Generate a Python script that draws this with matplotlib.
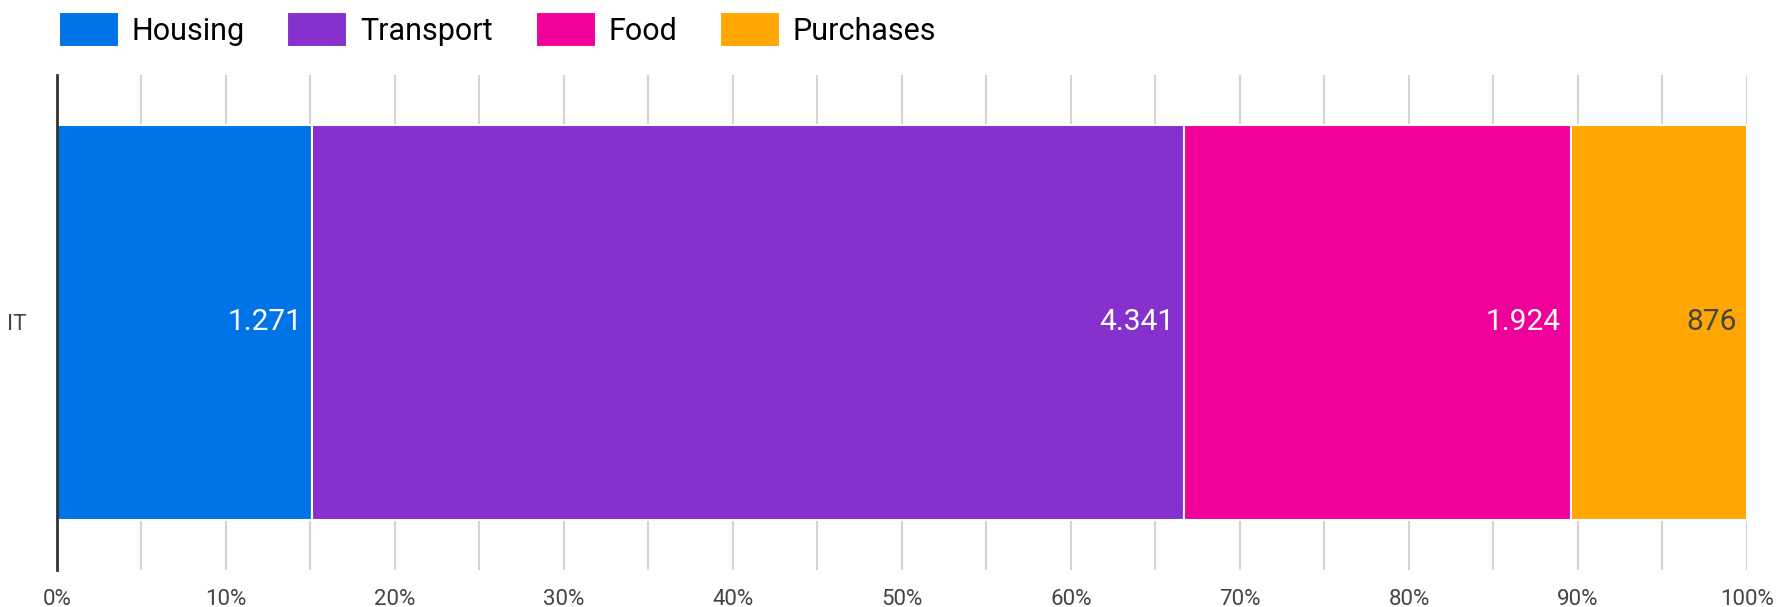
import matplotlib.pyplot as plt
from matplotlib.ticker import MultipleLocator, FuncFormatter

plt.rcParams['font.family'] = ['Roboto', 'DejaVu Sans']

category = "IT"
series = ["Housing", "Transport", "Food", "Purchases"]
values = [1271, 4341, 1924, 876]
labels = ["1.271", "4.341", "1.924", "876"]
colors = ["#0073E6", "#8630CD", "#F0009A", "#FFA600"]
label_colors = ["white", "white", "white", "#444444"]

total = sum(values)
shares = [v / total * 100 for v in values]

fig = plt.figure(figsize=(17.85, 6.07), dpi=100)
ax = fig.add_axes([0.0319, 0.061, 0.9468, 0.8154])

left = 0
for name, s, c, lab, lc in zip(series, shares, colors, labels, label_colors):
    ax.barh(0, s, left=left, height=0.8, color=c, edgecolor='white',
            linewidth=1.5, label=name, zorder=3)
    ax.text(left + s - 0.6, 0, lab, ha='right', va='center', fontsize=21.5,
            color=lc, zorder=4)
    left += s

ax.set_xlim(0, 100)
ax.set_ylim(-0.5, 0.5)
ax.set_yticks([0])
ax.set_yticklabels([category])
ax.xaxis.set_major_locator(MultipleLocator(10))
ax.xaxis.set_minor_locator(MultipleLocator(5))
ax.xaxis.set_major_formatter(FuncFormatter(lambda x, p: f"{x:.0f}%"))
ax.grid(True, axis='x', which='both', color='#d4d4d4', linewidth=1.5, zorder=0)
ax.tick_params(axis='both', which='both', length=0, labelsize=16,
               colors='#444444')
ax.tick_params(axis='x', pad=14)
ax.tick_params(axis='y', pad=22)
for side in ['top', 'right', 'bottom']:
    ax.spines[side].set_visible(False)
ax.spines['left'].set_color('#333333')
ax.spines['left'].set_linewidth(2)
ax.spines['left'].set_zorder(5)

fig.legend(loc='upper left', bbox_to_anchor=(0.0175, 1.025), ncol=4,
           frameon=False, fontsize=22, handlelength=1.96, handleheight=1.35,
           handletextpad=0.42, columnspacing=1.4)

fig.savefig("out.png", dpi=100)
